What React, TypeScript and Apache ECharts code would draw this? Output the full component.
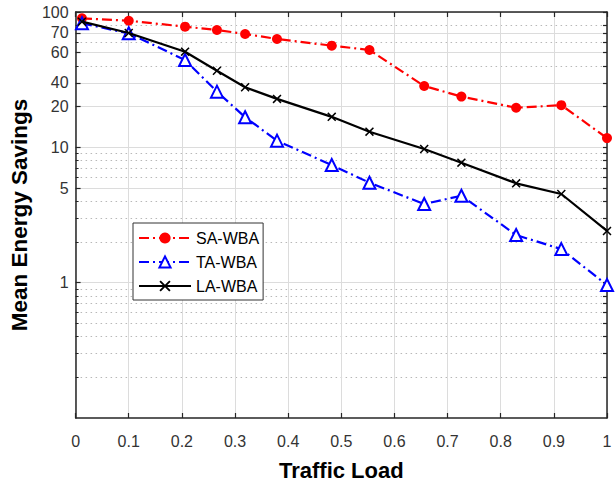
import React, { useEffect, useRef } from 'react';
import * as echarts from 'echarts';

const trafficLoad = [0.012, 0.1, 0.206, 0.266, 0.319, 0.379, 0.482, 0.553, 0.656, 0.726, 0.829, 0.914, 1.0];
const saWba = [89.8, 86.2, 77.9, 73.6, 68.8, 63.2, 56.4, 52.4, 28.4, 23.7, 19.6, 20.5, 11.7];
const taWba = [82.5, 69.6, 44.2, 25.8, 16.7, 11.2, 7.4, 5.48, 3.81, 4.39, 2.25, 1.77, 0.96];
const laWba = [84.8, 70, 50.9, 36.8, 27.8, 22.8, 16.8, 13.05, 9.72, 7.7, 5.42, 4.52, 2.41];

const seriesNames = ['SA-WBA', 'TA-WBA', 'LA-WBA'];
const yTickValues = [1, 5, 10, 20, 30, 50, 70, 100];
const yTickLabels = ['1', '5', '10', '20', '40', '60', '70', '100'];
const yMinorValues = [0.2, 0.3, 0.4, 0.5, 0.6, 0.7, 0.8, 0.9, 2, 3, 4, 6, 7, 8, 9, 40, 60, 80];
const xTickLabels = ['0', '0.1', '0.2', '0.3', '0.4', '0.5', '0.6', '0.7', '0.8', '0.9', '1'];

const FONT = '"Liberation Sans", Arial, Helvetica, sans-serif';
const AXIS_COLOR = '#262626';
const X_MARK = 'path://M0,1.2L1.2,0L5,3.8L8.8,0L10,1.2L6.2,5L10,8.8L8.8,10L5,6.2L1.2,10L0,8.8L3.8,5Z';

function yLabel(v: number): string {
  let best = 0;
  let bestD = Infinity;
  yTickValues.forEach((t, i) => {
    const d = Math.abs(Math.log(v) - Math.log(t));
    if (d < bestD) { bestD = d; best = i; }
  });
  return yTickLabels[best];
}

export default function App() {
  const ref = useRef<HTMLDivElement>(null);
  useEffect(() => {
    if (!ref.current) return;
    const chart = echarts.init(ref.current, undefined, { renderer: 'svg' });
    const pts = (ys: number[]) => trafficLoad.map((x, i) => [x, ys[i]]);
    const logAxisBase = { type: 'log', logBase: 10, min: 0.1, max: 100 };
    chart.setOption({
      animation: false,
      backgroundColor: '#fff',
      textStyle: { fontFamily: FONT },
      grid: { left: 70, right: 9, top: 12, bottom: 70, containLabel: false },
      legend: {
        orient: 'vertical',
        left: 133,
        top: 223,
        padding: [7, 4, 6, 5],
        itemWidth: 52,
        itemHeight: 14,
        itemGap: 8,
        backgroundColor: '#fff',
        borderColor: '#333',
        borderWidth: 1,
        borderRadius: 0,
        data: seriesNames,
        textStyle: { fontSize: 16, color: '#000', fontFamily: FONT },
      },
      xAxis: [
        {
          type: 'value', min: 0, max: 1, interval: 0.1, position: 'bottom',
          name: 'Traffic Load', nameLocation: 'middle', nameGap: 41,
          nameTextStyle: { fontSize: 22, fontWeight: 'bold', color: '#000', fontFamily: FONT },
          axisLine: { show: true, onZero: false, lineStyle: { color: AXIS_COLOR, width: 1.5 } },
          axisTick: { show: true, inside: true, length: 5, lineStyle: { color: AXIS_COLOR, width: 1.2 } },
          axisLabel: {
            show: true, margin: 15, fontSize: 16, color: '#333', fontFamily: FONT,
            formatter: (v: number) => xTickLabels[Math.round(v * 10)],
          },
          splitLine: { show: true, lineStyle: { color: '#dcdcdc', width: 1 } },
        },
        {
          type: 'value', min: 0, max: 1, interval: 0.1, position: 'top',
          axisLine: { show: true, onZero: false, lineStyle: { color: AXIS_COLOR, width: 1.5 } },
          axisTick: { show: true, inside: true, length: 5, lineStyle: { color: AXIS_COLOR, width: 1.2 } },
          axisLabel: { show: false },
          splitLine: { show: false },
        },
      ],
      yAxis: [
        {
          ...logAxisBase, position: 'left',
          name: 'Mean Energy Savings', nameLocation: 'middle', nameGap: 36,
          nameTextStyle: { fontSize: 22.5, fontWeight: 'bold', color: '#000', fontFamily: FONT },
          axisLine: { show: true, onZero: false, lineStyle: { color: AXIS_COLOR, width: 1.5 } },
          axisTick: { show: true, inside: true, length: 5, customValues: yTickValues, lineStyle: { color: AXIS_COLOR, width: 1.2 } },
          axisLabel: {
            show: true, margin: 7, fontSize: 16, color: '#333', fontFamily: FONT,
            customValues: yTickValues,
            formatter: (v: number) => yLabel(v),
          },
          splitLine: { show: true, lineStyle: { color: '#dcdcdc', width: 1 } },
          minorTick: { show: false },
          minorSplitLine: { show: false },
        },
        {
          ...logAxisBase, position: 'left',
          axisLine: { show: false },
          axisTick: { show: true, inside: true, length: 3, customValues: yMinorValues, lineStyle: { color: AXIS_COLOR, width: 1 } },
          axisLabel: { show: false, customValues: yMinorValues },
          splitLine: { show: true, lineStyle: { color: '#b8b8b8', width: 1, type: [1.5, 3.5] } },
        },
        {
          ...logAxisBase, position: 'right',
          axisLine: { show: true, onZero: false, lineStyle: { color: AXIS_COLOR, width: 1.5 } },
          axisTick: { show: true, inside: true, length: 4, customValues: [...yTickValues, ...yMinorValues], lineStyle: { color: AXIS_COLOR, width: 1.2 } },
          axisLabel: { show: false, customValues: [...yTickValues, ...yMinorValues] },
          splitLine: { show: false },
        },
      ],
      series: [
        {
          name: seriesNames[0], type: 'line', xAxisIndex: 0, yAxisIndex: 0,
          data: pts(saWba),
          symbol: 'circle', symbolSize: 10,
          itemStyle: { color: '#ff0000' },
          lineStyle: { color: '#ff0000', width: 2.2, type: [10, 4, 2, 4] },
          z: 3,
        },
        {
          name: seriesNames[1], type: 'line', xAxisIndex: 0, yAxisIndex: 0,
          data: pts(taWba),
          symbol: 'emptyTriangle', symbolSize: 12,
          itemStyle: { color: '#0000ff' },
          lineStyle: { color: '#0000ff', width: 2.2, type: [10, 4, 2, 4] },
          z: 4,
        },
        {
          name: seriesNames[2], type: 'line', xAxisIndex: 0, yAxisIndex: 0,
          data: pts(laWba),
          symbol: X_MARK, symbolSize: 9,
          itemStyle: { color: '#000' },
          lineStyle: { color: '#000', width: 2.2, type: 'solid' },
          z: 5,
        },
      ],
    });
    return () => chart.dispose();
  }, []);
  return (
    <div
      ref={ref}
      style={{ position: 'fixed', left: 0, top: 0, width: 616, height: 488, background: '#fff' }}
    />
  );
}
